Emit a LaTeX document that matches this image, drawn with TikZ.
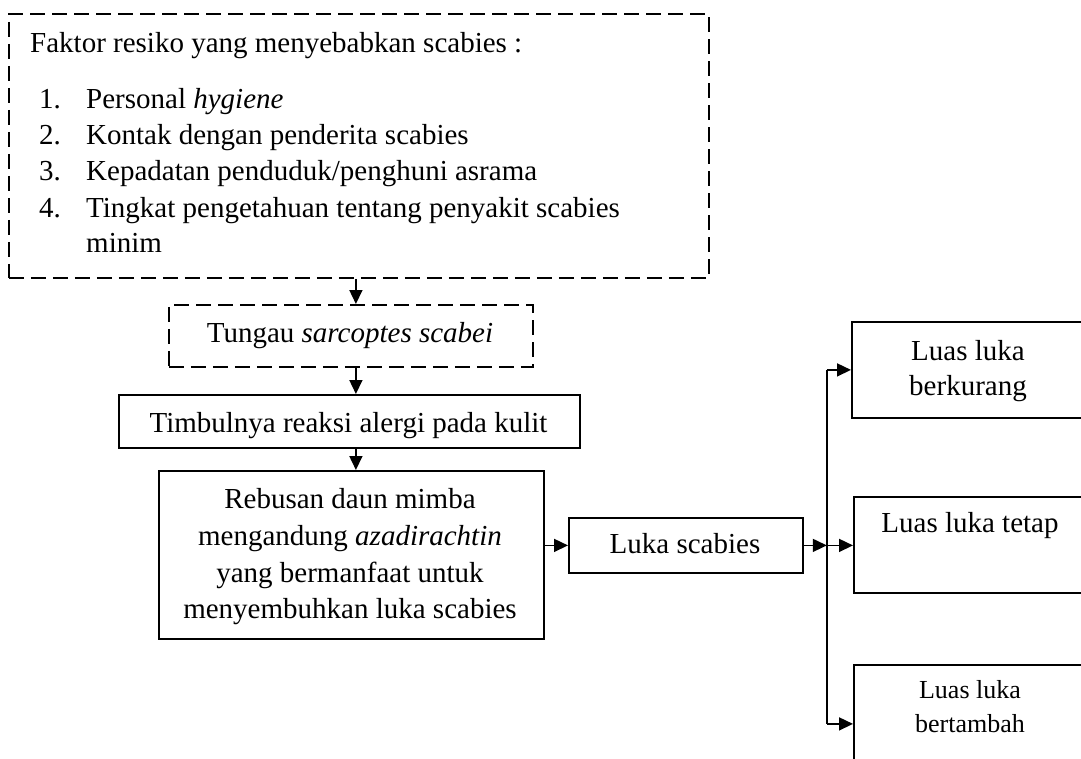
\documentclass[tikz,border=0pt]{standalone}
\usepackage{fontspec}
\setmainfont{Liberation Serif}
\usetikzlibrary{arrows.meta}
\tikzset{
  box/.style={draw, line width=1.8pt, inner sep=0pt, anchor=north west},
  dbox/.style={box, dash pattern=on 15pt off 7pt},
  txt/.style={inner sep=0pt, anchor=base, font=\fontsize{29}{37}\selectfont},
  txtl/.style={txt, anchor=base west},
  stxt/.style={txt, font=\fontsize{26}{33}\selectfont},
  arr/.style={line width=1.6pt, -{Triangle[length=14pt,width=13pt]}},
  plain/.style={line width=1.6pt},
}
\begin{document}
\begin{tikzpicture}[x=1pt,y=-1pt]
\useasboundingbox (0,0) rectangle (1081,758);
\clip (0,0) rectangle (1081,758);

% boxes
\node[dbox, minimum width=700pt, minimum height=264pt] (faktor) at (8,13) {};
\node[dbox, minimum width=364pt, minimum height=62pt] (tungau) at (168,304) {};
\node[box, minimum width=461pt, minimum height=53pt] (timbul) at (118,394) {};
\node[box, minimum width=385pt, minimum height=168pt] (rebusan) at (158,470) {};
\node[box, minimum width=234pt, minimum height=55pt] (luka) at (568,517) {};
\node[box, minimum width=232pt, minimum height=96pt] (r1) at (851,321) {};
\node[box, minimum width=230pt, minimum height=96pt] (r2) at (853,496) {};
\node[box, minimum width=230pt, minimum height=118pt] (r3) at (853,664) {};

% texts of the top box
\node[txtl] (f0) at (30,52) {Faktor resiko yang menyebabkan scabies :};
\node[txtl] (n1) at (39,108) {1.};
\node[txtl] (t1) at (86,108) {Personal \textit{hygiene}};
\node[txtl] (n2) at (39,144) {2.};
\node[txtl] (t2) at (86,144) {Kontak dengan penderita scabies};
\node[txtl] (n3) at (39,180) {3.};
\node[txtl] (t3) at (86,180) {Kepadatan penduduk/penghuni asrama};
\node[txtl] (n4) at (39,217) {4.};
\node[txtl] (t4) at (86,217) {Tingkat pengetahuan tentang penyakit scabies};
\node[txtl] (t5) at (86,252) {minim};

% other texts
\node[txt] (tt) at (350,342) {Tungau \textit{sarcoptes scabei}};
\node[txt] (ti) at (348.5,432) {Timbulnya reaksi alergi pada kulit};
\node[txt] (ra) at (350,508) {Rebusan daun mimba};
\node[txt] (rb) at (350,545) {mengandung \textit{azadirachtin}};
\node[txt] (rc) at (350,582) {yang bermanfaat untuk};
\node[txt] (rd) at (350,618) {menyembuhkan luka scabies};
\node[txt] (lk) at (685,553) {Luka scabies};
\node[txt] (r1a) at (968,360) {Luas luka};
\node[txt] (r1b) at (968,395) {berkurang};
\node[txt] (r2a) at (970,532) {Luas luka tetap};
\node[stxt] (r3a) at (970,698) {Luas luka};
\node[stxt] (r3b) at (970,732) {bertambah};

% connectors
\draw[arr] ([xshift=5pt]tungau.north |- faktor.south) -- ([xshift=5pt]tungau.north);
\draw[arr] ([xshift=5pt]tungau.south) -- ([xshift=5pt]tungau.south |- timbul.north);
\draw[arr] ([xshift=5pt]tungau.south |- timbul.south) -- ([xshift=5pt]tungau.south |- rebusan.north);
\draw[arr] (luka.west -| rebusan.east) -- (luka.west);
\coordinate (j) at ([xshift=23pt]luka.east);
\draw[arr] (luka.east) -- (j);
\draw[arr] (j) -- (j -| r2.west);
\draw[plain] (j |- r1.west) -- (j |- r3.west);
\draw[arr] (j |- r1.west) -- (r1.west);
\draw[arr] (j |- r3.west) -- (r3.west);
\end{tikzpicture}
\end{document}
